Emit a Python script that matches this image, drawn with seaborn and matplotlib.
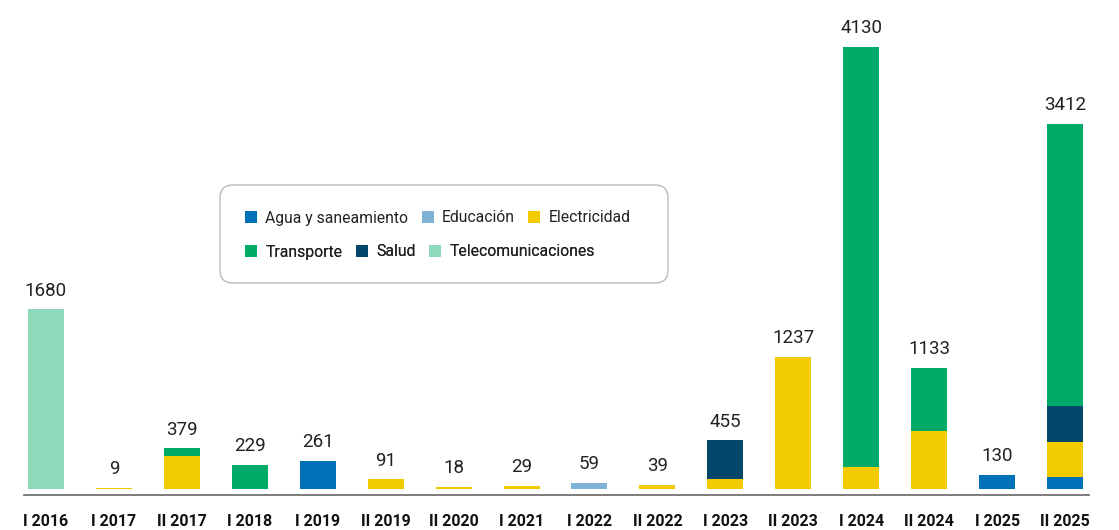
import numpy as np
import pandas as pd
import seaborn as sns
import matplotlib.pyplot as plt
from matplotlib.patches import Patch, FancyBboxPatch

periods = ['I 2016', 'I 2017', 'II 2017', 'I 2018', 'I 2019', 'II 2019', 'II 2020', 'I 2021',
           'I 2022', 'II 2022', 'I 2023', 'II 2023', 'I 2024', 'II 2024', 'I 2025', 'II 2025']

# sector amounts per period (stack order bottom -> top)
agua = [0, 0, 0, 0, 261, 0, 0, 0, 0, 0, 0, 0, 0, 0, 130, 113]
educacion = [0, 0, 0, 0, 0, 0, 0, 0, 59, 0, 0, 0, 0, 0, 0, 0]
electricidad = [0, 9, 305, 0, 0, 91, 18, 29, 0, 39, 98, 1237, 205, 541, 0, 322]
salud = [0, 0, 0, 0, 0, 0, 0, 0, 0, 0, 357, 0, 0, 0, 0, 339]
transporte = [0, 0, 74, 229, 0, 0, 0, 0, 0, 0, 0, 0, 3925, 592, 0, 2638]
telecom = [1680, 0, 0, 0, 0, 0, 0, 0, 0, 0, 0, 0, 0, 0, 0, 0]
totals = [1680, 9, 379, 229, 261, 91, 18, 29, 59, 39, 455, 1237, 4130, 1133, 130, 3412]

sectors = ['Agua y saneamiento', 'Educación', 'Electricidad', 'Salud', 'Transporte', 'Telecomunicaciones']
colors = {'Agua y saneamiento': '#0070b8', 'Educación': '#7fb3d6', 'Electricidad': '#f2cb00',
          'Salud': '#03476b', 'Transporte': '#00aa69', 'Telecomunicaciones': '#8ed9b9'}

df = pd.DataFrame({'periodo': periods, 'Agua y saneamiento': agua, 'Educación': educacion,
                   'Electricidad': electricidad, 'Salud': salud, 'Transporte': transporte,
                   'Telecomunicaciones': telecom})
cum = df[sectors].cumsum(axis=1)

sns.set_style('white')
plt.rcParams['font.family'] = ['Roboto', 'DejaVu Sans']

fig = plt.figure(figsize=(11.19, 5.3), dpi=100)
ax = fig.add_axes([12 / 1119, 1 - 495 / 530, 1087 / 1119, 485 / 530])

# draw cumulative totals from the top layer down so each layer covers the next
for s in reversed(sectors):
    sns.barplot(x=df['periodo'], y=cum[s], color=colors[s], width=0.53, ax=ax,
                saturation=1, order=periods, linewidth=0, edgecolor='none')

for i, t in enumerate(totals):
    ax.annotate(str(t), (i, t), xytext=(0, 7), textcoords='offset points',
                ha='center', va='bottom', fontsize=13.5, color='#222222')

ax.set_xlim(-0.5, 15.5)
ax.set_ylim(-56, 4477)
ax.set_xlabel('')
ax.set_ylabel('')
ax.set_yticks([])
for sp in ['top', 'right', 'left']:
    ax.spines[sp].set_visible(False)
ax.spines['bottom'].set_color('#666666')
ax.spines['bottom'].set_linewidth(1.2)
ax.spines['bottom'].set_bounds(-0.32, 15.35)
ax.tick_params(axis='x', length=0, pad=14)
for lbl in ax.get_xticklabels():
    lbl.set_fontweight('bold')
    lbl.set_fontsize(11.5)
    lbl.set_color('#111111')

# legend: two free-flowing rows inside one rounded box
rows = [['Agua y saneamiento', 'Educación', 'Electricidad'],
        ['Transporte', 'Salud', 'Telecomunicaciones']]
row_y = [(495 - 218) / 485, (495 - 252) / 485]
for names, yy in zip(rows, row_y):
    handles = [Patch(facecolor=colors[s], edgecolor='none', label=s) for s in names]
    leg = ax.legend(handles=handles, ncol=3, loc='center left',
                    bbox_to_anchor=((245 - 12) / 1087, yy), frameon=False, fontsize=11.3,
                    handlelength=0.75, handleheight=0.75, handletextpad=0.55,
                    columnspacing=0.85, borderpad=0, borderaxespad=0)
    for txt in leg.get_texts():
        txt.set_color('#222222')
    ax.add_artist(leg)

box = FancyBboxPatch((2.20, (530 - 283) / 100), 4.48, 0.98,
                     boxstyle='round,pad=0,rounding_size=0.13',
                     transform=fig.dpi_scale_trans, facecolor='white',
                     edgecolor='#bbbbbb', linewidth=1.0, zorder=4, clip_on=False)
ax.add_patch(box)

fig.savefig('out.png', dpi=100)
